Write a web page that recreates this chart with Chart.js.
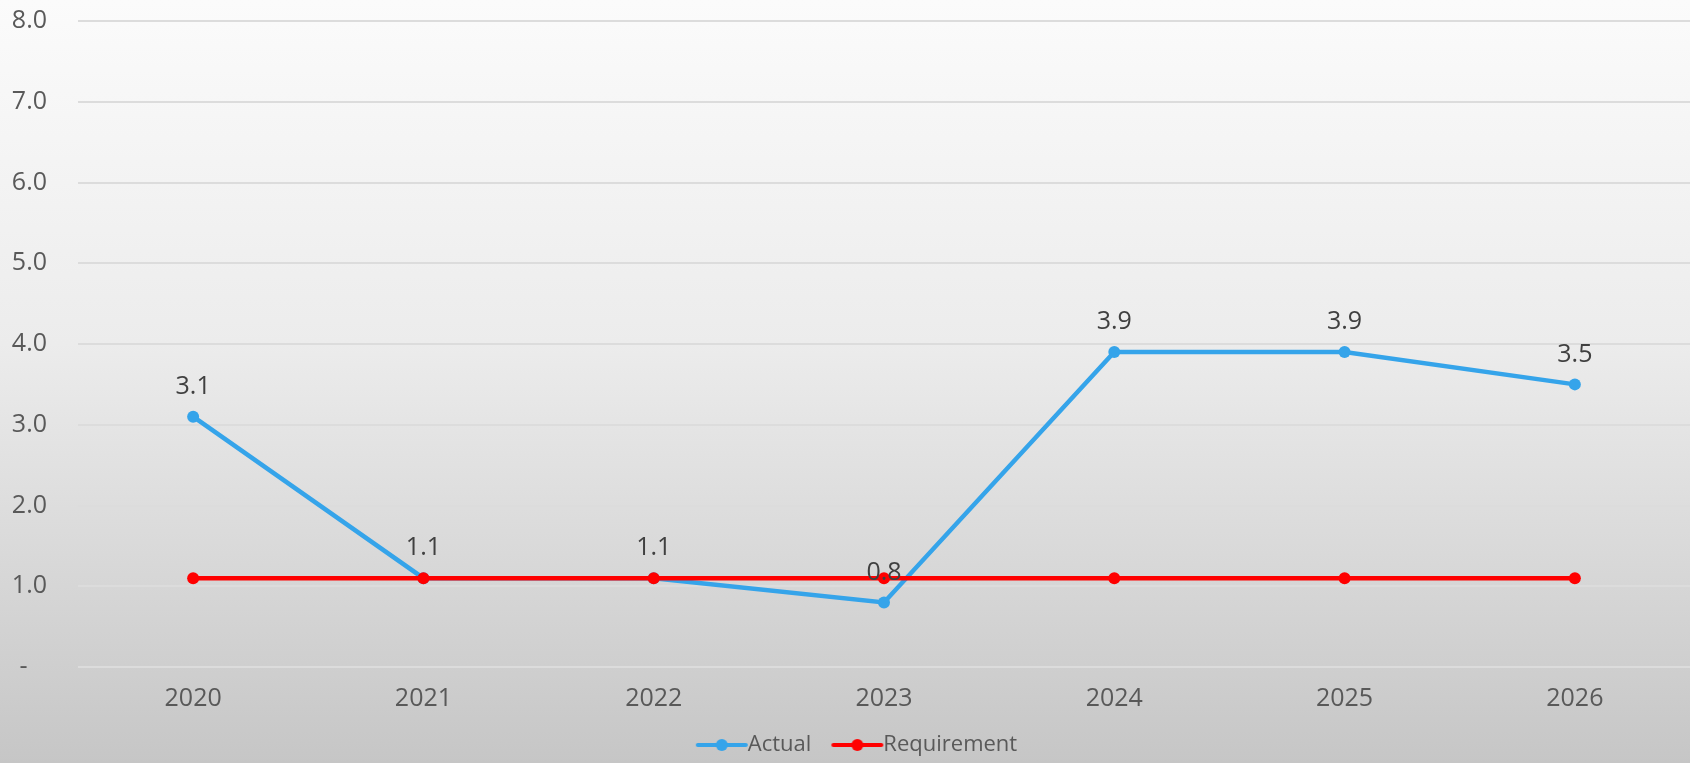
<!DOCTYPE html>
<html>
<head>
<meta charset="utf-8">
<script src="https://cdn.jsdelivr.net/npm/chart.js@4/dist/chart.umd.min.js"></script>
<style>
  html, body { margin: 0; padding: 0; overflow: hidden; }
  body { width: 1690px; height: 763px; background: linear-gradient(180deg, #fbfbfb 0%, #ececec 45%, #c6c6c6 100%); }
  #wrap { position: relative; top: -25px; width: 1696px; height: 791px; }
</style>
</head>
<body>
<div id="wrap"><canvas id="chart"></canvas></div>
<script>
const years = ['2020', '2021', '2022', '2023', '2024', '2025', '2026'];
const actual = [3.1, 1.1, 1.1, 0.8, 3.9, 3.9, 3.5];
const requirement = [1.1, 1.1, 1.1, 1.1, 1.1, 1.1, 1.1];
const yTicks = [0, 1, 2, 3, 4, 5, 6, 7, 8];

const FONT = '"Open Sans", "DejaVu Sans", sans-serif';
const FONT_SIZE = 25;
const LEGEND_FONT_SIZE = 22;
const BLUE = '#35a4ea';
const RED = '#ff0000';

// Legend swatch: short line with a dot in the middle, with a blank lead-in on the left
function legendSwatch(color) {
  const c = document.createElement('canvas');
  c.width = 96; c.height = 14;
  const g = c.getContext('2d');
  g.strokeStyle = color; g.lineWidth = 4; g.lineCap = 'round';
  g.beginPath(); g.moveTo(38, 7); g.lineTo(86, 7); g.stroke();
  g.fillStyle = color;
  g.beginPath(); g.arc(62, 7, 6, 0, Math.PI * 2); g.fill();
  return c;
}

// Value labels above each Actual point
const valueLabels = {
  id: 'valueLabels',
  afterDatasetsDraw(chart) {
    const meta = chart.getDatasetMeta(0);
    const ctx = chart.ctx;
    ctx.save();
    ctx.font = FONT_SIZE + 'px ' + FONT;
    ctx.fillStyle = '#404040';
    ctx.textAlign = 'center';
    ctx.textBaseline = 'middle';
    meta.data.forEach((pt, i) => {
      ctx.fillText(actual[i].toFixed(1), pt.x, pt.y - 30);
    });
    ctx.restore();
  }
};

new Chart(document.getElementById('chart'), {
  type: 'line',
  data: {
    labels: years,
    datasets: [
      {
        label: 'Actual',
        data: actual,
        borderColor: BLUE,
        backgroundColor: BLUE,
        borderWidth: 4.5,
        pointRadius: 6,
        pointHoverRadius: 6,
        pointBorderWidth: 0,
        pointStyle: 'circle',
        tension: 0,
        order: 1
      },
      {
        label: 'Requirement',
        data: requirement,
        borderColor: RED,
        backgroundColor: RED,
        borderWidth: 4.5,
        pointRadius: 6,
        pointHoverRadius: 6,
        pointBorderWidth: 0,
        pointStyle: 'circle',
        tension: 0,
        order: 0
      }
    ]
  },
  options: {
    responsive: true,
    maintainAspectRatio: false,
    animation: false,
    layout: { padding: { top: 0, left: 0, right: 0, bottom: 0 } },
    scales: {
      x: {
        offset: true,
        grid: { display: false, drawTicks: false },
        border: { display: false },
        ticks: { color: '#595959', font: { family: FONT, size: FONT_SIZE }, padding: 17 }
      },
      y: {
        min: 0,
        max: 8,
        afterBuildTicks(scale) { scale.ticks = yTicks.map(v => ({ value: v })); },
        afterFit(scale) { scale.width = 78; },
        grid: { color: '#dcdcdc', lineWidth: 2, drawTicks: false },
        border: { display: false },
        ticks: {
          color: '#595959',
          font: { family: FONT, size: FONT_SIZE },
          padding: 31,
          callback: v => (v === 0 ? '-   ' : v.toFixed(1))
        }
      }
    },
    plugins: {
      tooltip: { enabled: false },
      legend: {
        position: 'bottom',
        labels: {
          usePointStyle: true,
          pointStyleWidth: 58,
          padding: 3,
          color: '#595959',
          font: { family: FONT, size: LEGEND_FONT_SIZE },
          sort: (a, b) => a.datasetIndex - b.datasetIndex,
          generateLabels(chart) {
            return chart.data.datasets.map((ds, i) => ({
              text: ds.label,
              datasetIndex: i,
              pointStyle: legendSwatch(ds.borderColor),
              fillStyle: ds.borderColor,
              strokeStyle: ds.borderColor,
              lineWidth: 0,
              hidden: false,
              fontColor: '#595959'
            }));
          }
        }
      }
    }
  },
  plugins: [valueLabels]
});
</script>
</body>
</html>
